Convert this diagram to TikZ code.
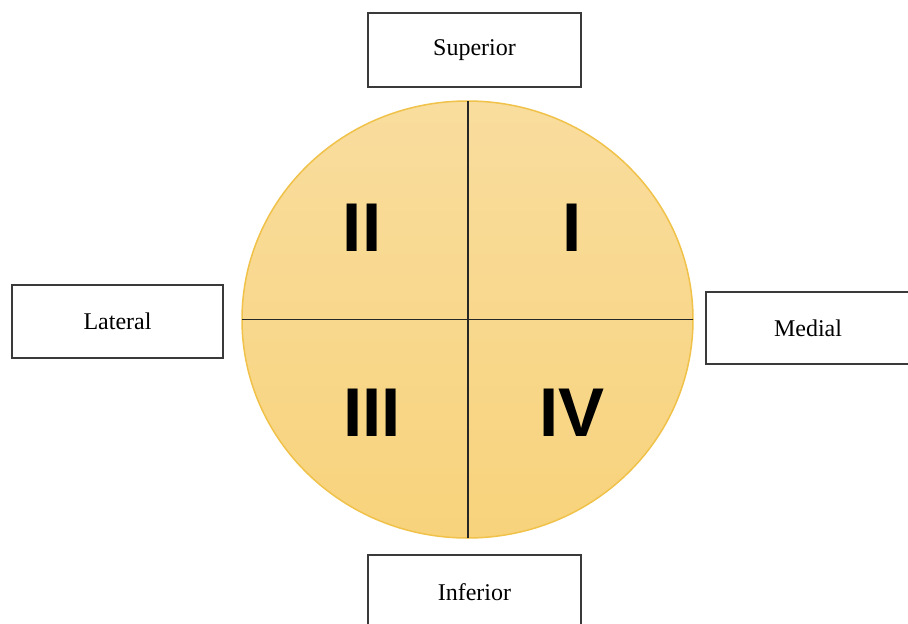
\documentclass[tikz,border=0pt]{standalone}
\usepackage{fontspec}
\setmainfont{Liberation Serif}
\newfontfamily\numfont{Liberation Sans}
\definecolor{fillTop}{HTML}{F9DD9E}
\definecolor{fillBot}{HTML}{F8D37C}
\definecolor{rimCol}{HTML}{F0C24A}
\definecolor{boxLine}{HTML}{3A3A3A}
\begin{document}
\begin{tikzpicture}[x=1pt,y=-1pt,
  labelbox/.style={draw=boxLine,line width=1.2pt,fill=white,minimum width=213pt,minimum height=73pt,inner sep=0pt,font=\fontsize{24}{28}\selectfont},
  numeral/.style={font=\numfont\bfseries\fontsize{69}{69}\selectfont,inner sep=0pt},
  axis/.style={draw=black!85,line width=1.8pt}]
\useasboundingbox (0,0) rectangle (908,624);
\begin{scope}
\clip (0,0) rectangle (908,624);
\shade[top color=fillTop,bottom color=fillBot,draw=rimCol,line width=1.5pt] (467.5,319.5) ellipse [x radius=225.5,y radius=218.5];
\coordinate (T) at (468,101);
\coordinate (B) at (468,538);
\coordinate (L) at (242,319.5);
\coordinate (R) at (693,319.5);
\draw[axis] (T) -- (B);
\draw[axis] (L) -- (R);
\node[numeral] (n2) at (362,228) {II};
\node[numeral] (n1) at (572,228) {I};
\node[numeral] (n3) at (372,413) {III};
\node[numeral] (n4) at (572,413) {IV};
\node[labelbox,minimum width=213pt,minimum height=74pt] (sup) at (474.5,50) {Superior};
\node[labelbox,minimum width=213pt,minimum height=74pt] (inf) at (474.5,592) {Inferior};
\node[labelbox,minimum width=211pt,minimum height=73pt] (lat) at (117.5,321.5) {Lateral};
\node[labelbox,minimum width=204pt,minimum height=72pt] (med) at (808,328) {Medial};
\end{scope}
\end{tikzpicture}
\end{document}
